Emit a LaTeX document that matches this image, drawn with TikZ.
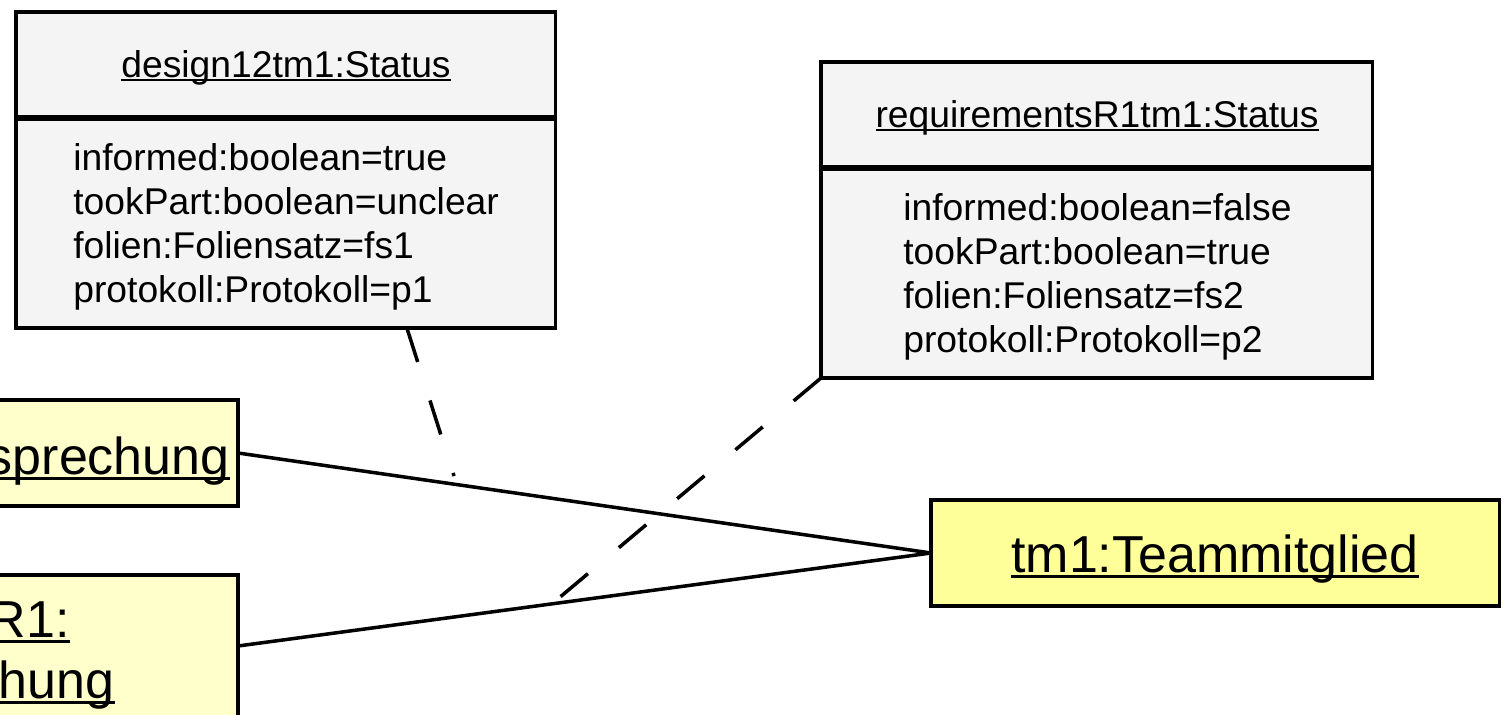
\documentclass[tikz,border=0pt]{standalone}
\usepackage{fontspec}
\setmainfont{Liberation Sans}
\usetikzlibrary{calc}

% underline at a fixed depth below the baseline, crossing descenders
\newcommand{\ulin}[1]{\leavevmode\setbox0\hbox{#1}\rlap{\rule[-0.12em]{\wd0}{0.07em}}\box0}

\definecolor{boxgray}{HTML}{F4F4F4}
\definecolor{objyellow}{HTML}{FFFF99}
\definecolor{paleyellow}{HTML}{FFFFCC}

\tikzset{
  statbox/.style={draw=black, fill=boxgray, line width=1.8pt, rectangle, inner sep=0pt, outer sep=0pt},
  objbox/.style={draw=black, fill=objyellow, line width=1.8pt, rectangle, inner sep=0pt, outer sep=0pt},
  paleobj/.style={draw=black, fill=paleyellow, line width=1.8pt, rectangle, inner sep=0pt, outer sep=0pt},
  divider/.style={line width=3pt},
  headtext/.style={inner sep=0pt, font=\fontsize{21.2}{25}\selectfont},
  attrs/.style={inner sep=0pt, align=left, font=\fontsize{21.2}{25.04}\selectfont},
  bigtext/.style={inner sep=0pt, font=\fontsize{29.6}{34.7}\selectfont},
  link/.style={line width=2pt},
  dashlink/.style={line width=2pt, dash pattern=on 20.3pt off 23pt}
}

\begin{document}
\begin{tikzpicture}[x=0.02cm, y=-0.02cm]
\useasboundingbox (0,0) rectangle (1503,714);

% status object design12tm1
\node[statbox, minimum width=10.8cm, minimum height=2.12cm, anchor=north west] (s1h) at (16,12) {};
\node[statbox, minimum width=10.8cm, minimum height=4.2cm, anchor=north west] (s1b) at (16,118) {};
\draw[divider] (s1h.south west) -- (s1h.south east);
\node[headtext, anchor=base] (s1name) at (286,77) {\ulin{design12tm1:Status}};
% the base anchor of a multi-line node sits on its last line
\node[attrs, anchor=base west] (s1attr) at (73,302)
  {informed:boolean=true\\tookPart:boolean=unclear\\folien:Foliensatz=fs1\\protokoll:Protokoll=p1};

% status object requirementsR1tm1
\node[statbox, minimum width=11.04cm, minimum height=2.12cm, anchor=north west] (s2h) at (821,62) {};
\node[statbox, minimum width=11.04cm, minimum height=4.2cm, anchor=north west] (s2b) at (821,168) {};
\draw[divider] (s2h.south west) -- (s2h.south east);
\node[headtext, anchor=base] (s2name) at (1097,127) {\ulin{requirementsR1tm1:Status}};
\node[attrs, anchor=base west] (s2attr) at (903,352)
  {informed:boolean=false\\tookPart:boolean=true\\folien:Foliensatz=fs2\\protokoll:Protokoll=p2};

% meeting objects on the left
\node[paleobj, minimum width=6.36cm, minimum height=2.12cm, anchor=north east] (b1) at (238,400) {};
\node[bigtext, anchor=base east] (b1name) at (230,474) {\ulin{sprechung}};
\node[paleobj, minimum width=6.36cm, minimum height=2.84cm, anchor=north east] (b2) at (238,575) {};
\node[bigtext, anchor=base east] (b2line1) at (70,637) {\ulin{R1:}};
\node[bigtext, anchor=base east] (b2line2) at (115,698) {\ulin{chung}};

% team member
\node[objbox, minimum width=11.38cm, minimum height=2.12cm, anchor=north west] (tm) at (931,500) {};
\node[bigtext, anchor=base] (tmname) at (1215,572) {\ulin{tm1:Teammitglied}};

% links
\draw[link] (b1.east) -- (tm.west);
\draw[link] (b2.east) -- (tm.west);

% attachments of the status objects
\coordinate (d1end) at (454,476);
\coordinate (d2end) at ($(b2.east)!0.453!(tm.west)$);
\draw[dashlink] ($(s1b.south west)!0.724!(s1b.south east)$) -- (d1end);
\draw[dashlink] (s2b.south west) -- (d2end);
\end{tikzpicture}
\end{document}
